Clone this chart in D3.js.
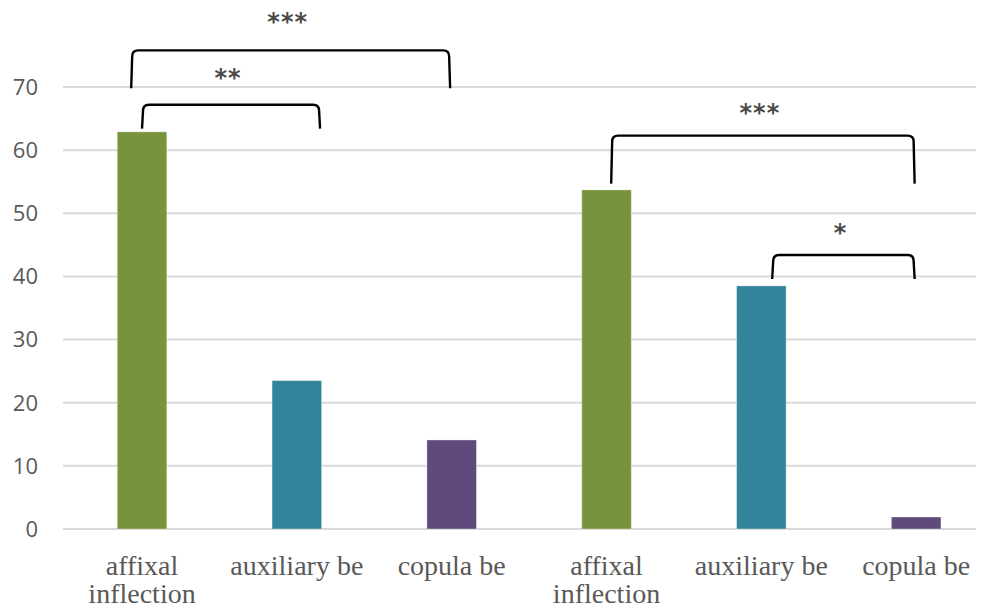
<!DOCTYPE html>
<html>
<head>
<meta charset="utf-8">
<script src="https://cdn.jsdelivr.net/npm/d3@7"></script>
<style>
  html, body { margin: 0; padding: 0; background: #fff; }
  svg { display: block; }
</style>
</head>
<body>
<svg id="chart" width="986" height="610"></svg>
<script>
// ---- data ----
const categories = ["affixal inflection", "auxiliary be", "copula be", "affixal inflection", "auxiliary be", "copula be"];
const values = [62.9, 23.5, 14.1, 53.7, 38.5, 1.9];
const barColors = ["#77933c", "#31849b", "#604a7b", "#77933c", "#31849b", "#604a7b"];
const yTicks = [0, 10, 20, 30, 40, 50, 60, 70];
// significance brackets: from/to in category index units, top/bottom/labelY in value units
const bracketFrom = [-0.07, 0, 3.03, 4.07];
const bracketTo = [1.99, 1.15, 4.99, 4.99];
const bracketTop = [75.8, 67.2, 62.3, 43.4];
const bracketBottom = [69.8, 63.4, 54.7, 39.6];
const bracketLabelY = [80.5, 71.6, 66.1, 47.0];
const bracketLabels = ["***", "**", "***", "*"];

// ---- layout ----
const svg = d3.select("#chart");
const plotLeft = 64.6, plotRight = 993.6, gridRight = 976;
const y = d3.scaleLinear().domain([0, 70]).range([529, 87]);
const x = d3.scaleBand().domain(d3.range(categories.length))
  .range([plotLeft, plotRight]).paddingInner(0.68).paddingOuter(0.34);
const xc = d3.scaleLinear().domain([0, categories.length - 1])
  .range([x(0) + x.bandwidth() / 2, x(categories.length - 1) + x.bandwidth() / 2]);

// gridlines
svg.append("g").selectAll("line").data(yTicks).join("line")
  .attr("x1", 63).attr("x2", gridRight)
  .attr("y1", d => y(d)).attr("y2", d => y(d))
  .attr("stroke", "#d9d9d9").attr("stroke-width", 2);

// y tick labels
svg.append("g").selectAll("text").data(yTicks).join("text")
  .attr("x", 38).attr("y", d => y(d))
  .attr("dy", "0.36em")
  .attr("text-anchor", "end")
  .attr("font-family", "'Open Sans', sans-serif")
  .attr("font-size", 22)
  .attr("font-weight", 500)
  .attr("fill", "#595959")
  .text(d => d);

// bars
svg.append("g").selectAll("rect").data(values).join("rect")
  .attr("x", (d, i) => x(i))
  .attr("width", x.bandwidth())
  .attr("y", d => y(d))
  .attr("height", d => y(0) - y(d))
  .attr("fill", (d, i) => barColors[i])
  .attr("stroke", "rgba(255,255,255,0.35)")
  .attr("stroke-width", 1);

// x labels (wrapped)
const xl = svg.append("g").selectAll("text").data(categories).join("text")
  .attr("x", (d, i) => xc(i))
  .attr("y", 575)
  .attr("text-anchor", "middle")
  .attr("font-family", "'Liberation Serif', 'Times New Roman', serif")
  .attr("font-size", 28)
  .attr("fill", "#595959");
xl.each(function(d, i) {
  const el = d3.select(this);
  const words = d.split(" ");
  let lines = [];
  let line = [];
  const probe = el.append("tspan");
  words.forEach(w => {
    const test = line.concat([w]).join(" ");
    probe.text(test);
    if (probe.node().getComputedTextLength() > 148 && line.length) {
      lines.push(line.join(" "));
      line = [w];
    } else {
      line.push(w);
    }
  });
  lines.push(line.join(" "));
  probe.remove();
  lines.forEach((t, k) => {
    el.append("tspan").attr("x", xc(i)).attr("dy", k === 0 ? 0 : 28).text(t);
  });
});

// brackets
const bg = svg.append("g");
const r = 6;
bracketLabels.forEach((lab, k) => {
  const x1 = xc(bracketFrom[k]), x2 = xc(bracketTo[k]);
  const yt = y(bracketTop[k]), yb = y(bracketBottom[k]);
  const p = d3.path();
  p.moveTo(x1, yb);
  p.lineTo(x1 + 1, yt + r);
  p.quadraticCurveTo(x1 + 1, yt, x1 + 1 + r, yt);
  p.lineTo(x2 - 1 - r, yt);
  p.quadraticCurveTo(x2 - 1, yt, x2 - 1, yt + r);
  p.lineTo(x2, yb);
  bg.append("path").attr("d", p.toString())
    .attr("fill", "none").attr("stroke", "#000").attr("stroke-width", 2.4);
  bg.append("text")
    .attr("x", (x1 + x2) / 2 - 3)
    .attr("y", y(bracketLabelY[k]) + 9)
    .attr("text-anchor", "middle")
    .attr("font-family", "'DejaVu Sans', sans-serif")
    .attr("font-weight", "bold")
    .attr("font-size", 24)
    .attr("letter-spacing", 1)
    .attr("fill", "#4a4a4a")
    .text(lab);
});
</script>
</body>
</html>
